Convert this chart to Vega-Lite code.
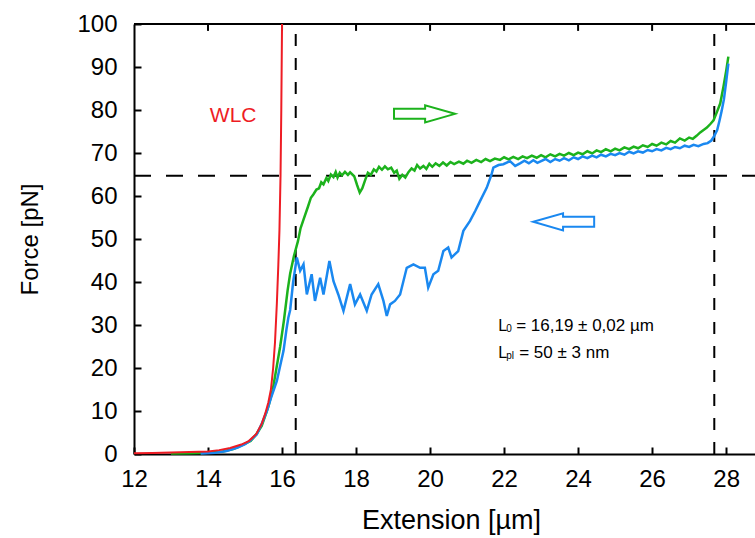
{
  "$schema": "https://vega.github.io/schema/vega-lite/v6.json",
  "width": 621,
  "height": 430,
  "autosize": {"type": "none"},
  "padding": {"left": 134, "top": 24, "right": 0, "bottom": 84},
  "background": "white",
  "config": {
    "view": {"stroke": null},
    "font": "Liberation Sans",
    "axis": {"grid": false, "domainColor": "black", "domainWidth": 2, "tickColor": "black", "tickWidth": 2, "labelColor": "black", "titleColor": "black", "titleFontWeight": "normal", "labelFont": "Liberation Sans", "titleFont": "Liberation Sans"}
  },
  "datasets": {
    "curves": [
      {"s": "red", "x": 12.0, "y": 0.2}, {"s": "red", "x": 12.5, "y": 0.25}, {"s": "red", "x": 13.0, "y": 0.35}, {"s": "red", "x": 13.5, "y": 0.45}, {"s": "red", "x": 14.0, "y": 0.6}, {"s": "red", "x": 14.3, "y": 0.9}, {"s": "red", "x": 14.6, "y": 1.4}, {"s": "red", "x": 14.9, "y": 2.2}, {"s": "red", "x": 15.1, "y": 3.0}, {"s": "red", "x": 15.3, "y": 4.6}, {"s": "red", "x": 15.45, "y": 7}, {"s": "red", "x": 15.55, "y": 9.5}, {"s": "red", "x": 15.63, "y": 12}, {"s": "red", "x": 15.7, "y": 15}, {"s": "red", "x": 15.76, "y": 20}, {"s": "red", "x": 15.81, "y": 26}, {"s": "red", "x": 15.86, "y": 35}, {"s": "red", "x": 15.9, "y": 44}, {"s": "red", "x": 15.93, "y": 52}, {"s": "red", "x": 15.96, "y": 65}, {"s": "red", "x": 15.98, "y": 80}, {"s": "red", "x": 16.0, "y": 100},

      {"s": "green", "x": 13.0, "y": 0.1}, {"s": "green", "x": 13.5, "y": 0.2}, {"s": "green", "x": 14.0, "y": 0.3}, {"s": "green", "x": 14.4, "y": 0.6}, {"s": "green", "x": 14.7, "y": 1.2}, {"s": "green", "x": 14.95, "y": 2.2}, {"s": "green", "x": 15.15, "y": 3.0}, {"s": "green", "x": 15.3, "y": 4.5}, {"s": "green", "x": 15.45, "y": 6.5}, {"s": "green", "x": 15.55, "y": 9}, {"s": "green", "x": 15.63, "y": 11}, {"s": "green", "x": 15.75, "y": 15}, {"s": "green", "x": 15.85, "y": 20}, {"s": "green", "x": 15.95, "y": 25}, {"s": "green", "x": 16.05, "y": 31}, {"s": "green", "x": 16.15, "y": 38}, {"s": "green", "x": 16.22, "y": 42}, {"s": "green", "x": 16.32, "y": 46}, {"s": "green", "x": 16.43, "y": 49.5}, {"s": "green", "x": 16.5, "y": 52.5}, {"s": "green", "x": 16.58, "y": 54.5}, {"s": "green", "x": 16.7, "y": 57.5}, {"s": "green", "x": 16.78, "y": 59.6}, {"s": "green", "x": 16.85, "y": 60.4}, {"s": "green", "x": 16.93, "y": 61.5}, {"s": "green", "x": 17.0, "y": 61.8}, {"s": "green", "x": 17.06, "y": 63.2}, {"s": "green", "x": 17.12, "y": 62.7}, {"s": "green", "x": 17.2, "y": 64.2}, {"s": "green", "x": 17.25, "y": 63.5}, {"s": "green", "x": 17.32, "y": 65.0}, {"s": "green", "x": 17.39, "y": 64.4}, {"s": "green", "x": 17.45, "y": 65.6}, {"s": "green", "x": 17.5, "y": 64.3}, {"s": "green", "x": 17.56, "y": 65.4}, {"s": "green", "x": 17.62, "y": 64.8}, {"s": "green", "x": 17.7, "y": 65.6}, {"s": "green", "x": 17.78, "y": 64.9}, {"s": "green", "x": 17.84, "y": 65.5}, {"s": "green", "x": 17.95, "y": 64.6}, {"s": "green", "x": 18.03, "y": 62.5}, {"s": "green", "x": 18.1, "y": 60.8}, {"s": "green", "x": 18.17, "y": 61.8}, {"s": "green", "x": 18.25, "y": 63.8}, {"s": "green", "x": 18.32, "y": 65.4}, {"s": "green", "x": 18.4, "y": 64.9}, {"s": "green", "x": 18.48, "y": 66.2}, {"s": "green", "x": 18.55, "y": 65.7}, {"s": "green", "x": 18.62, "y": 66.8}, {"s": "green", "x": 18.7, "y": 66.1}, {"s": "green", "x": 18.78, "y": 66.9}, {"s": "green", "x": 18.86, "y": 66.2}, {"s": "green", "x": 18.95, "y": 66.6}, {"s": "green", "x": 19.03, "y": 65.4}, {"s": "green", "x": 19.1, "y": 65.9}, {"s": "green", "x": 19.17, "y": 64.0}, {"s": "green", "x": 19.25, "y": 64.9}, {"s": "green", "x": 19.33, "y": 64.3}, {"s": "green", "x": 19.42, "y": 65.6}, {"s": "green", "x": 19.5, "y": 66.4}, {"s": "green", "x": 19.58, "y": 65.9}, {"s": "green", "x": 19.65, "y": 67.2}, {"s": "green", "x": 19.73, "y": 66.4}, {"s": "green", "x": 19.82, "y": 67.0}, {"s": "green", "x": 19.9, "y": 66.3}, {"s": "green", "x": 19.98, "y": 67.5}, {"s": "green", "x": 20.06, "y": 66.8}, {"s": "green", "x": 20.15, "y": 67.6}, {"s": "green", "x": 20.25, "y": 67.0}, {"s": "green", "x": 20.35, "y": 67.8}, {"s": "green", "x": 20.45, "y": 67.1}, {"s": "green", "x": 20.55, "y": 67.9}, {"s": "green", "x": 20.65, "y": 67.4}, {"s": "green", "x": 20.78, "y": 68.0}, {"s": "green", "x": 20.9, "y": 67.5}, {"s": "green", "x": 21.0, "y": 68.2}, {"s": "green", "x": 21.12, "y": 67.7}, {"s": "green", "x": 21.25, "y": 68.4}, {"s": "green", "x": 21.38, "y": 67.9}, {"s": "green", "x": 21.5, "y": 68.6}, {"s": "green", "x": 21.62, "y": 68.1}, {"s": "green", "x": 21.75, "y": 68.7}, {"s": "green", "x": 21.89, "y": 68.4}, {"s": "green", "x": 22.0, "y": 69.0}, {"s": "green", "x": 22.12, "y": 68.5}, {"s": "green", "x": 22.25, "y": 69.1}, {"s": "green", "x": 22.38, "y": 68.6}, {"s": "green", "x": 22.5, "y": 69.2}, {"s": "green", "x": 22.62, "y": 68.8}, {"s": "green", "x": 22.75, "y": 69.4}, {"s": "green", "x": 22.88, "y": 68.9}, {"s": "green", "x": 23.0, "y": 69.5}, {"s": "green", "x": 23.12, "y": 69.0}, {"s": "green", "x": 23.25, "y": 69.7}, {"s": "green", "x": 23.38, "y": 69.2}, {"s": "green", "x": 23.5, "y": 69.8}, {"s": "green", "x": 23.62, "y": 69.4}, {"s": "green", "x": 23.75, "y": 70.0}, {"s": "green", "x": 23.88, "y": 69.5}, {"s": "green", "x": 24.0, "y": 70.1}, {"s": "green", "x": 24.12, "y": 69.7}, {"s": "green", "x": 24.25, "y": 70.4}, {"s": "green", "x": 24.38, "y": 69.9}, {"s": "green", "x": 24.5, "y": 70.6}, {"s": "green", "x": 24.62, "y": 70.2}, {"s": "green", "x": 24.75, "y": 70.9}, {"s": "green", "x": 24.88, "y": 70.4}, {"s": "green", "x": 25.0, "y": 71.0}, {"s": "green", "x": 25.12, "y": 70.6}, {"s": "green", "x": 25.25, "y": 71.3}, {"s": "green", "x": 25.38, "y": 70.9}, {"s": "green", "x": 25.5, "y": 71.5}, {"s": "green", "x": 25.62, "y": 71.1}, {"s": "green", "x": 25.75, "y": 71.8}, {"s": "green", "x": 25.88, "y": 71.4}, {"s": "green", "x": 26.0, "y": 72.1}, {"s": "green", "x": 26.12, "y": 71.7}, {"s": "green", "x": 26.25, "y": 72.4}, {"s": "green", "x": 26.38, "y": 72.0}, {"s": "green", "x": 26.5, "y": 72.8}, {"s": "green", "x": 26.62, "y": 72.4}, {"s": "green", "x": 26.75, "y": 73.4}, {"s": "green", "x": 26.88, "y": 72.9}, {"s": "green", "x": 27.0, "y": 73.6}, {"s": "green", "x": 27.1, "y": 73.3}, {"s": "green", "x": 27.2, "y": 74.0}, {"s": "green", "x": 27.3, "y": 74.8}, {"s": "green", "x": 27.4, "y": 75.4}, {"s": "green", "x": 27.48, "y": 75.9}, {"s": "green", "x": 27.58, "y": 76.8}, {"s": "green", "x": 27.66, "y": 77.6}, {"s": "green", "x": 27.75, "y": 79.5}, {"s": "green", "x": 27.84, "y": 81.5}, {"s": "green", "x": 27.93, "y": 85.5}, {"s": "green", "x": 28.0, "y": 89}, {"s": "green", "x": 28.06, "y": 92.4},

      {"s": "blue", "x": 13.8, "y": 0.1}, {"s": "blue", "x": 14.2, "y": 0.3}, {"s": "blue", "x": 14.5, "y": 0.7}, {"s": "blue", "x": 14.8, "y": 1.5}, {"s": "blue", "x": 15.0, "y": 2.3}, {"s": "blue", "x": 15.15, "y": 3.2}, {"s": "blue", "x": 15.32, "y": 4.6}, {"s": "blue", "x": 15.45, "y": 7}, {"s": "blue", "x": 15.59, "y": 10}, {"s": "blue", "x": 15.7, "y": 13}, {"s": "blue", "x": 15.86, "y": 17}, {"s": "blue", "x": 15.95, "y": 20.5}, {"s": "blue", "x": 16.04, "y": 24}, {"s": "blue", "x": 16.12, "y": 29}, {"s": "blue", "x": 16.17, "y": 31.7}, {"s": "blue", "x": 16.22, "y": 33.5}, {"s": "blue", "x": 16.3, "y": 40}, {"s": "blue", "x": 16.4, "y": 45.7}, {"s": "blue", "x": 16.49, "y": 42.6}, {"s": "blue", "x": 16.58, "y": 44.1}, {"s": "blue", "x": 16.67, "y": 37.1}, {"s": "blue", "x": 16.8, "y": 41.8}, {"s": "blue", "x": 16.89, "y": 35.6}, {"s": "blue", "x": 17.03, "y": 41}, {"s": "blue", "x": 17.12, "y": 37.1}, {"s": "blue", "x": 17.28, "y": 44.9}, {"s": "blue", "x": 17.39, "y": 40.2}, {"s": "blue", "x": 17.52, "y": 37.1}, {"s": "blue", "x": 17.66, "y": 33.3}, {"s": "blue", "x": 17.84, "y": 39.5}, {"s": "blue", "x": 17.97, "y": 34.8}, {"s": "blue", "x": 18.11, "y": 37.1}, {"s": "blue", "x": 18.29, "y": 33.3}, {"s": "blue", "x": 18.42, "y": 37.1}, {"s": "blue", "x": 18.6, "y": 39.5}, {"s": "blue", "x": 18.74, "y": 35.6}, {"s": "blue", "x": 18.83, "y": 32.1}, {"s": "blue", "x": 18.92, "y": 34.8}, {"s": "blue", "x": 19.05, "y": 35.6}, {"s": "blue", "x": 19.19, "y": 37.1}, {"s": "blue", "x": 19.37, "y": 43.3}, {"s": "blue", "x": 19.55, "y": 44.1}, {"s": "blue", "x": 19.73, "y": 43.3}, {"s": "blue", "x": 19.86, "y": 43.3}, {"s": "blue", "x": 19.95, "y": 38.7}, {"s": "blue", "x": 20.09, "y": 41.8}, {"s": "blue", "x": 20.22, "y": 42.6}, {"s": "blue", "x": 20.36, "y": 47.2}, {"s": "blue", "x": 20.49, "y": 48}, {"s": "blue", "x": 20.58, "y": 45.7}, {"s": "blue", "x": 20.76, "y": 47.2}, {"s": "blue", "x": 20.9, "y": 51.9}, {"s": "blue", "x": 21.08, "y": 54.2}, {"s": "blue", "x": 21.22, "y": 56.5}, {"s": "blue", "x": 21.35, "y": 58.8}, {"s": "blue", "x": 21.53, "y": 61.9}, {"s": "blue", "x": 21.66, "y": 65}, {"s": "blue", "x": 21.71, "y": 66.6}, {"s": "blue", "x": 21.85, "y": 67.2}, {"s": "blue", "x": 21.98, "y": 67.4}, {"s": "blue", "x": 22.16, "y": 68.1}, {"s": "blue", "x": 22.3, "y": 67}, {"s": "blue", "x": 22.43, "y": 67.6}, {"s": "blue", "x": 22.55, "y": 68.2}, {"s": "blue", "x": 22.67, "y": 67.6}, {"s": "blue", "x": 22.79, "y": 68.3}, {"s": "blue", "x": 22.9, "y": 67.7}, {"s": "blue", "x": 23.0, "y": 68.1}, {"s": "blue", "x": 23.12, "y": 68.6}, {"s": "blue", "x": 23.25, "y": 67.9}, {"s": "blue", "x": 23.38, "y": 68.6}, {"s": "blue", "x": 23.5, "y": 68.2}, {"s": "blue", "x": 23.62, "y": 68.8}, {"s": "blue", "x": 23.75, "y": 68.3}, {"s": "blue", "x": 23.88, "y": 69.0}, {"s": "blue", "x": 24.0, "y": 68.6}, {"s": "blue", "x": 24.12, "y": 69.2}, {"s": "blue", "x": 24.25, "y": 68.8}, {"s": "blue", "x": 24.38, "y": 69.4}, {"s": "blue", "x": 24.5, "y": 69.0}, {"s": "blue", "x": 24.62, "y": 69.6}, {"s": "blue", "x": 24.75, "y": 69.2}, {"s": "blue", "x": 24.88, "y": 69.8}, {"s": "blue", "x": 25.0, "y": 69.5}, {"s": "blue", "x": 25.12, "y": 70.0}, {"s": "blue", "x": 25.25, "y": 69.6}, {"s": "blue", "x": 25.38, "y": 70.3}, {"s": "blue", "x": 25.5, "y": 69.9}, {"s": "blue", "x": 25.62, "y": 70.4}, {"s": "blue", "x": 25.75, "y": 70.1}, {"s": "blue", "x": 25.88, "y": 70.7}, {"s": "blue", "x": 26.0, "y": 70.4}, {"s": "blue", "x": 26.12, "y": 70.9}, {"s": "blue", "x": 26.25, "y": 70.6}, {"s": "blue", "x": 26.38, "y": 71.2}, {"s": "blue", "x": 26.5, "y": 70.9}, {"s": "blue", "x": 26.62, "y": 71.4}, {"s": "blue", "x": 26.75, "y": 71.1}, {"s": "blue", "x": 26.88, "y": 71.7}, {"s": "blue", "x": 27.0, "y": 71.4}, {"s": "blue", "x": 27.12, "y": 71.9}, {"s": "blue", "x": 27.25, "y": 71.6}, {"s": "blue", "x": 27.39, "y": 72.1}, {"s": "blue", "x": 27.5, "y": 72.3}, {"s": "blue", "x": 27.6, "y": 72.9}, {"s": "blue", "x": 27.68, "y": 74.0}, {"s": "blue", "x": 27.76, "y": 75.4}, {"s": "blue", "x": 27.82, "y": 77.5}, {"s": "blue", "x": 27.88, "y": 79.8}, {"s": "blue", "x": 27.94, "y": 82.5}, {"s": "blue", "x": 28.0, "y": 86.5}, {"s": "blue", "x": 28.06, "y": 90.8}
    ],
    "vlines": [{"x": 16.37, "x2": 16.37, "y": 0, "y2": 100}, {"x": 27.68, "x2": 27.68, "y": 0, "y2": 100}],
    "hlines": [{"x": 12, "x2": 28.78, "y": 64.7, "y2": 64.7}],
    "frame": [{"x": 12, "x2": 28.78, "y": 100, "y2": 100}, {"x": 14, "x2": 14, "y": 100, "y2": 98.4}, {"x": 16, "x2": 16, "y": 100, "y2": 98.4}, {"x": 18, "x2": 18, "y": 100, "y2": 98.4}, {"x": 20, "x2": 20, "y": 100, "y2": 98.4}, {"x": 22, "x2": 22, "y": 100, "y2": 98.4}, {"x": 24, "x2": 24, "y": 100, "y2": 98.4}, {"x": 26, "x2": 26, "y": 100, "y2": 98.4}, {"x": 28, "x2": 28, "y": 100, "y2": 98.4}],
    "arrowsR": [{"x": 19.85, "y": 79.1}],
    "arrowsL": [{"x": 23.61, "y": 54.0}],
    "labels": [{"x": 14.68, "y": 78.6, "t": "WLC"}],
    "ann": [{"x": 21.84, "y": 29.8, "main": "L", "sub": "0", "rest": "= 16,19 ± 0,02 µm", "off": 14}, {"x": 21.84, "y": 23.6, "main": "L", "sub": "pl", "rest": "= 50 ± 3 nm", "off": 21}]
  },
  "encoding": {
    "x": {"field": "x", "type": "quantitative", "scale": {"domain": [12, 28.78], "nice": false, "zero": false},
      "axis": {"orient": "bottom", "values": [12, 14, 16, 18, 20, 22, 24, 26, 28], "labelFontSize": 24, "labelFlush": false, "tickSize": -7, "labelPadding": 20, "title": "Extension [µm]", "titleFontSize": 27, "titlePadding": 16, "titleX": 317}},
    "y": {"field": "y", "type": "quantitative", "scale": {"domain": [0, 100], "nice": false},
      "axis": {"orient": "left", "values": [0, 10, 20, 30, 40, 50, 60, 70, 80, 90, 100], "labelFontSize": 24, "labelFlush": false, "tickSize": -7, "labelPadding": 24, "title": "Force [pN]", "titleFontSize": 24, "titlePadding": 34}}
  },
  "layer": [
    {
      "data": {"name": "vlines"},
      "mark": {"type": "rule", "stroke": "#000000", "strokeWidth": 2, "strokeDash": [12, 12]},
      "encoding": {"x2": {"field": "x2"}, "y2": {"field": "y2"}}
    },
    {
      "data": {"name": "hlines"},
      "mark": {"type": "rule", "stroke": "#000000", "strokeWidth": 2, "strokeDash": [17, 15]},
      "encoding": {"x2": {"field": "x2"}, "y2": {"field": "y2"}}
    },
    {
      "data": {"name": "frame"},
      "mark": {"type": "rule", "stroke": "#000000", "strokeWidth": 2},
      "encoding": {"x2": {"field": "x2"}, "y2": {"field": "y2"}}
    },
    {
      "data": {"name": "curves"},
      "transform": [{"filter": "datum.s === 'green'"}],
      "mark": {"type": "line", "stroke": "#1cb21c", "strokeWidth": 2.5},
      "encoding": {"order": {"field": "x", "type": "quantitative"}}
    },
    {
      "data": {"name": "curves"},
      "transform": [{"filter": "datum.s === 'blue'"}],
      "mark": {"type": "line", "stroke": "#1a88f0", "strokeWidth": 2.5},
      "encoding": {"order": {"field": "x", "type": "quantitative"}}
    },
    {
      "data": {"name": "curves"},
      "transform": [{"filter": "datum.s === 'red'"}],
      "mark": {"type": "line", "stroke": "#ee1c24", "strokeWidth": 2},
      "encoding": {"order": {"field": "x", "type": "quantitative"}}
    },
    {
      "data": {"name": "arrowsR"},
      "mark": {"type": "point", "shape": "M -1 -0.164 L 0.02 -0.164 L 0.02 -0.28 L 1 0 L 0.02 0.28 L 0.02 0.164 L -1 0.164 Z", "size": 3721, "filled": false, "stroke": "#1cb21c", "strokeWidth": 2, "opacity": 1},
      "encoding": {}
    },
    {
      "data": {"name": "arrowsL"},
      "mark": {"type": "point", "shape": "M 1 -0.164 L -0.02 -0.164 L -0.02 -0.28 L -1 0 L -0.02 0.28 L -0.02 0.164 L 1 0.164 Z", "size": 3721, "filled": false, "stroke": "#1a88f0", "strokeWidth": 2, "opacity": 1},
      "encoding": {}
    },
    {
      "data": {"name": "labels"},
      "mark": {"type": "text", "color": "#ee1c24", "fontSize": 21, "align": "center", "baseline": "middle", "font": "Liberation Sans"},
      "encoding": {"text": {"field": "t"}}
    },
    {
      "data": {"name": "ann"},
      "mark": {"type": "text", "color": "black", "fontSize": 16, "align": "left", "baseline": "middle", "font": "Liberation Sans"},
      "encoding": {"text": {"field": "main"}}
    },
    {
      "data": {"name": "ann"},
      "mark": {"type": "text", "color": "black", "fontSize": 10, "align": "left", "baseline": "middle", "dx": 8, "dy": 3, "font": "Liberation Sans"},
      "encoding": {"text": {"field": "sub"}}
    },
    {
      "data": {"name": "ann"},
      "transform": [{"filter": "datum.off === 14"}],
      "mark": {"type": "text", "color": "black", "fontSize": 17, "align": "left", "baseline": "middle", "dx": 18, "font": "Liberation Sans"},
      "encoding": {"text": {"field": "rest"}}
    },
    {
      "data": {"name": "ann"},
      "transform": [{"filter": "datum.off === 21"}],
      "mark": {"type": "text", "color": "black", "fontSize": 17, "align": "left", "baseline": "middle", "dx": 21, "font": "Liberation Sans"},
      "encoding": {"text": {"field": "rest"}}
    }
  ]
}
